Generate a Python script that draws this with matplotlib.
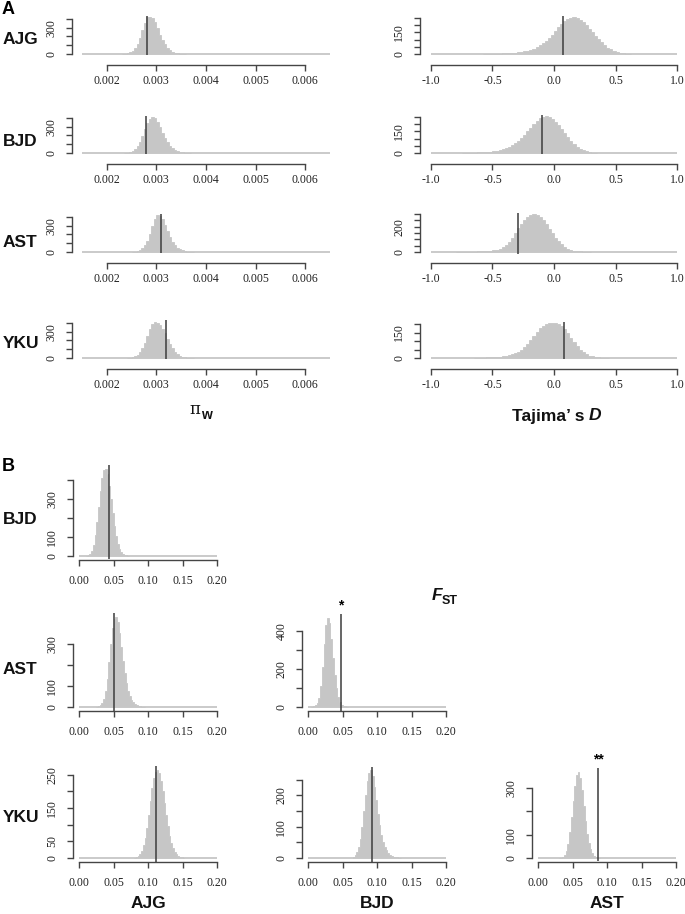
import matplotlib
matplotlib.use('Agg')
import matplotlib.pyplot as plt
import numpy as np

W, H = 685, 914
fig = plt.figure(figsize=(W / 100, H / 100), dpi=100)

GRAY = '#c6c6c6'
LINE = '#3c3c3c'
AXC = '#454545'
SERIF = 'Liberation Serif'
SANS = 'Liberation Sans'

# ---------------- DATA ----------------
pops = ["AJG", "BJD", "AST", "YKU"]

# Panel A, nucleotide diversity (pi_w) simulated distributions
pi_width = 0.00005
pi_start = [0.00230, 0.00235, 0.00250, 0.00240]
pi_AJG = [1, 3, 8, 18, 35, 65, 110, 180, 270, 350, 415, 420, 405, 360, 290, 220, 160, 110, 72, 45, 28, 16, 9, 5, 3, 1]
pi_BJD = [2, 5, 11, 22, 42, 75, 125, 195, 275, 345, 390, 405, 395, 355, 295, 230, 170, 120, 80, 52, 32, 19, 11, 6, 3, 2, 1]
pi_AST = [2, 5, 10, 20, 40, 75, 130, 210, 300, 380, 420, 410, 370, 305, 235, 170, 118, 78, 50, 31, 18, 10, 5, 3, 1]
pi_YKU = [2, 4, 9, 18, 35, 65, 110, 175, 255, 335, 390, 410, 395, 370, 330, 280, 220, 160, 110, 72, 45, 27, 15, 8, 4, 2, 1]
pi_counts = [pi_AJG, pi_BJD, pi_AST, pi_YKU]
pi_obs = [0.00281, 0.00280, 0.00309, 0.00319]
pi_xticks = [0.002, 0.003, 0.004, 0.005, 0.006]
pi_xticklabels = ["0.002", "0.003", "0.004", "0.005", "0.006"]
pi_range = (0.0015, 0.0065)
pi_yticks = [0, 100, 200, 300, 400]
pi_ylabels = ["0", "", "", "300", ""]

# Panel A, Tajima's D simulated distributions
d_width = 0.025
d_start = [-0.575, -0.75, -0.80, -0.65]
d_AJG = [1, 1, 2, 2, 3, 3, 4, 5, 6, 7, 9, 11, 14, 18, 23, 29, 37, 47, 60, 75, 92, 112, 135, 160, 185, 208, 228, 243,
         253, 255, 250, 238, 220, 198, 174, 150, 125, 102, 80, 61, 45, 32, 22, 14, 9, 5, 3, 2]
d_BJD = [1, 1, 2, 2, 3, 4, 5, 6, 8, 10, 13, 16, 20, 26, 33, 42, 54, 68, 85, 105, 127, 150, 175, 200, 222, 240, 251,
         255, 250, 238, 218, 193, 165, 136, 108, 82, 60, 42, 28, 18, 11, 6, 3, 1]
d_AST = [1, 1, 1, 2, 2, 3, 3, 4, 5, 6, 8, 10, 13, 18, 26, 38, 55, 80, 110, 150, 190, 225, 255, 275, 290, 300, 292,
         275, 250, 220, 185, 150, 115, 85, 60, 40, 26, 16, 10, 6, 4, 2, 1, 1]
d_YKU = [1, 1, 2, 2, 3, 4, 5, 6, 8, 10, 13, 17, 22, 29, 38, 50, 65, 85, 108, 132, 155, 175, 190, 198, 203, 206, 205,
         200, 190, 172, 148, 120, 92, 68, 48, 33, 22, 14, 9, 5, 3, 2, 1, 1]
d_counts = [d_AJG, d_BJD, d_AST, d_YKU]
d_obs = [0.073, -0.10, -0.29, 0.08]
d_xticks = [-1.0, -0.5, 0.0, 0.5, 1.0]
d_xticklabels = ["-1.0", "-0.5", "0.0", "0.5", "1.0"]
d_range = (-1.0, 1.0)
d_yticks = [[0, 50, 100, 150, 200, 250], [0, 50, 100, 150, 200, 250],
            [0, 50, 100, 150, 200, 250, 300], [0, 50, 100, 150, 200]]
d_ylabels = [["0", "", "", "150", "", ""], ["0", "", "", "150", "", ""],
             ["0", "", "", "", "200", "", ""], ["0", "", "", "150", ""]]

# Panel B, pairwise FST simulated distributions (row pop vs column pop)
f_width = 0.0025
f_pairs = [("BJD", "AJG"), ("AST", "AJG"), ("AST", "BJD"), ("YKU", "AJG"), ("YKU", "BJD"), ("YKU", "AST")]
f_start = [0.010, 0.025, 0.005, 0.080, 0.065, 0.030]
f_BJD_AJG = [2, 5, 12, 28, 60, 110, 180, 260, 340, 410, 455, 460, 430, 370, 300, 225, 160, 105, 65, 38, 22, 12, 6, 3, 2]
f_AST_AJG = [2, 4, 8, 18, 38, 75, 135, 215, 300, 375, 420, 430, 405, 350, 285, 220, 160, 112, 76, 50, 33, 22, 14, 9,
             5, 3, 2, 1]
f_AST_BJD = [1, 3, 8, 20, 50, 110, 210, 330, 430, 470, 440, 360, 260, 170, 100, 55, 28, 13, 6, 3, 1]
f_YKU_AJG = [1, 3, 6, 12, 22, 38, 60, 90, 128, 170, 210, 240, 258, 265, 255, 232, 200, 165, 128, 95, 67, 45, 29, 18,
             11, 6, 3, 2, 1]
f_YKU_BJD = [3, 8, 18, 35, 62, 100, 150, 200, 245, 270, 280, 262, 228, 185, 142, 105, 75, 52, 36, 25, 17, 11, 7, 4, 3,
             2, 1, 1]
f_YKU_AST = [1, 2, 5, 12, 28, 60, 110, 175, 245, 310, 355, 370, 345, 290, 225, 160, 105, 65, 38, 20, 10, 5, 2, 1]
f_counts = [f_BJD_AJG, f_AST_AJG, f_AST_BJD, f_YKU_AJG, f_YKU_BJD, f_YKU_AST]
f_obs = [0.0435, 0.051, 0.0474, 0.111, 0.0923, 0.087]
f_signif = ["", "", "*", "", "", "**"]
f_xticks = [0.00, 0.05, 0.10, 0.15, 0.20]
f_xticklabels = ["0.00", "0.05", "0.10", "0.15", "0.20"]
f_range = (0.0, 0.2)
f_yticks = [[0, 100, 200, 300, 400], [0, 100, 200, 300], [0, 100, 200, 300, 400],
            [0, 50, 100, 150, 200, 250], [0, 50, 100, 150, 200, 250], [0, 100, 200, 300]]
f_ylabels = [["0", "100", "", "300", ""], ["0", "100", "", "300"], ["0", "", "200", "", "400"],
             ["0", "50", "", "150", "", "250"], ["0", "", "100", "", "200", ""], ["0", "100", "", "300"]]


# ---------------- LAYOUT HELPERS ----------------
def px_axes(L, R, T, B):
    return fig.add_axes([L / W, 1 - B / H, (R - L) / W, (B - T) / H])


def hist_panel(L, R, xlim, y0, spp, counts, start, width, obs, rng, xticks, xtl, yticks, ytl,
               axis_gap, lab_pad):
    cmax = max(counts)
    top = y0 - 1.04 * cmax * spp
    bot = y0 + 0.04 * cmax * spp
    ax = px_axes(L, R, top, bot)
    ax.set_xlim(*xlim)
    ax.set_ylim(-0.04 * cmax, 1.04 * cmax)
    edges = start + width * np.arange(len(counts) + 1)
    ax.hlines(0, rng[0], rng[1], color=GRAY, lw=1.3, zorder=1)
    ax.stairs(counts, edges, fill=True, facecolor=GRAY, edgecolor=GRAY, linewidth=0.6, zorder=2)
    ax.axvline(obs, color=LINE, lw=1.1, zorder=3)
    for s in ['top', 'right']:
        ax.spines[s].set_visible(False)
    ax.patch.set_visible(False)
    off_px = (y0 + axis_gap) - bot
    ax.spines['bottom'].set_position(('outward', off_px * 0.72))
    ax.spines['bottom'].set_bounds(xticks[0], xticks[-1])
    ax.spines['left'].set_bounds(yticks[0], yticks[-1])
    for s in ['bottom', 'left']:
        ax.spines[s].set_color(AXC)
        ax.spines[s].set_linewidth(1.0)
    ax.set_xticks(xticks)
    ax.set_xticklabels(xtl, fontfamily=SERIF, fontsize=8.5)
    ax.set_yticks(yticks)
    ax.set_yticklabels(ytl, fontfamily=SERIF, fontsize=8.5, rotation=90, va='center')
    ax.tick_params(axis='both', direction='out', length=4.5, width=1.0, color=AXC, labelcolor='#222222')
    ax.tick_params(axis='x', pad=lab_pad)
    ax.tick_params(axis='y', pad=6)
    return ax


def ftext(x, y, s, **kw):
    fig.text(x / W, 1 - y / H, s, **kw)


# ---------------- PANEL A ----------------
A_y0 = [54, 153, 252, 358]
pi_spp = 0.088
d_spp = [0.144, 0.144, 0.126, 0.17]
for i in range(4):
    hist_panel(72, 340, (0.0013, 0.0067), A_y0[i], pi_spp, pi_counts[i], pi_start[i], pi_width, pi_obs[i],
               pi_range, pi_xticks, pi_xticklabels, pi_yticks, pi_ylabels, 11, 2.5)
    hist_panel(420, 685, (-1.0894, 1.065), A_y0[i], d_spp[i], d_counts[i], d_start[i], d_width, d_obs[i],
               d_range, d_xticks, d_xticklabels, d_yticks[i], d_ylabels[i], 11, 2.5)

row_lab = dict(fontfamily=SANS, fontweight='bold', fontsize=12.5, va='center', ha='left', color='#111111')
A_lab_y = [39, 141, 242.5, 343]
for i, p in enumerate(pops):
    ftext(3, A_lab_y[i], p, **row_lab)
ftext(2, 9, "A", fontfamily=SANS, fontweight='bold', fontsize=13, va='center', ha='left')
ftext(2, 467, "B", fontfamily=SANS, fontweight='bold', fontsize=13, va='center', ha='left')

# axis titles
ftext(200, 409, "π", fontfamily='DejaVu Serif', fontsize=12, va='center', ha='right', color='#111111')
ftext(201, 415, "w", fontfamily=SANS, fontweight='bold', fontsize=10, va='center', ha='left', color='#111111')
ftext(589, 416, "Tajima’ s ", fontfamily=SANS, fontweight='bold', fontsize=12.5, va='center', ha='right',
      color='#111111')
ftext(589, 416, "D", fontfamily=SANS, fontweight='bold', style='italic', fontsize=12.5, va='center', ha='left',
      color='#111111')
ftext(432, 596, "F", fontfamily=SANS, fontweight='bold', style='italic', fontsize=12.5, va='center', ha='left',
      color='#111111')
ftext(442, 601, "ST", fontfamily=SANS, fontweight='bold', fontsize=9, va='center', ha='left', color='#111111')

# ---------------- PANEL B ----------------
B_col_L = [73, 302, 532]
B_zero_x = [79, 308, 538]
B_y0 = [556, 707, 858]
f_spp = [0.19, 0.21, 0.19, 0.333, 0.313, 0.233]
pos = [(0, 0), (1, 0), (1, 1), (2, 0), (2, 1), (2, 2)]
for k, (r, c) in enumerate(pos):
    L = B_col_L[c]
    x0 = B_zero_x[c]
    xl = ((L - x0) / 690.0, 0.2 + 5.5 / 690.0)
    ax = hist_panel(L, x0 + 0.2 * 690 + 5.5, xl, B_y0[r], f_spp[k], f_counts[k], f_start[k], f_width, f_obs[k],
                    f_range, f_xticks, f_xticklabels, f_yticks[k], f_ylabels[k], 4, 6)
    if f_signif[k]:
        ax.annotate(f_signif[k], xy=(f_obs[k], 1.0), xycoords=('data', 'axes fraction'),
                    xytext=(0, 1), textcoords='offset points', ha='center', va='bottom',
                    fontfamily=SANS, fontweight='bold', fontsize=10)

B_lab_y = [519, 670, 818]
for i, p in enumerate(["BJD", "AST", "YKU"]):
    ftext(3, B_lab_y[i], p, **row_lab)
col_lab = dict(fontfamily=SANS, fontweight='bold', fontsize=12.5, va='center', ha='center', color='#111111')
for c, p in enumerate(["AJG", "BJD", "AST"]):
    ftext(B_zero_x[c] + 69, 904, p, **col_lab)

fig.savefig('out.png', dpi=100)
